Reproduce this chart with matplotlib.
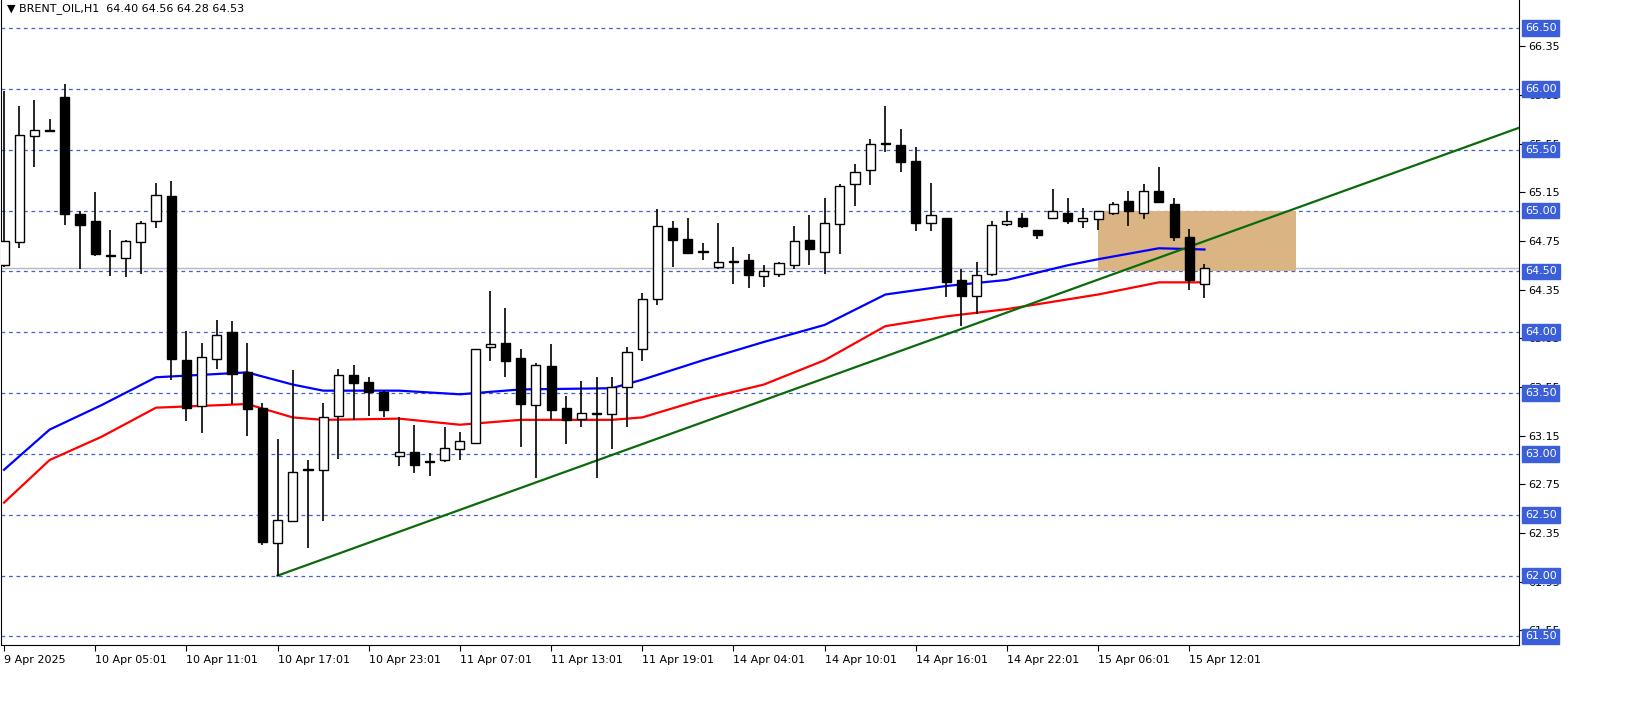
import matplotlib
matplotlib.use("Agg")
import matplotlib.pyplot as plt
import matplotlib.transforms as mt
import numpy as np

opens = [64.55,64.74,65.61,65.66,65.93,64.97,64.91,64.63,64.61,64.74,64.91,65.12,63.77,63.39,63.78,64.00,63.67,63.38,62.27,62.45,
         62.87,62.87,63.31,63.65,63.59,63.51,62.98,63.02,62.93,62.95,63.04,63.09,63.88,63.91,63.79,63.40,63.72,63.38,63.29,63.33,
         63.33,63.55,63.86,64.27,64.86,64.77,64.66,64.54,64.58,64.59,64.46,64.48,64.55,64.76,64.66,64.89,65.22,65.33,65.55,65.54,
         65.41,64.90,64.94,64.43,64.30,64.48,64.89,64.94,64.84,64.94,64.98,64.91,64.93,64.98,65.08,64.98,65.16,65.05,64.78,64.40]
highs = [65.98,65.86,65.91,65.75,66.04,65.00,65.15,64.84,64.76,64.91,65.23,65.24,64.01,63.91,64.10,64.09,63.91,63.42,63.12,63.69,
         62.95,63.42,63.70,63.73,63.63,63.52,63.30,63.24,63.01,63.22,63.18,63.86,64.34,64.20,63.86,63.75,63.90,63.48,63.60,63.63,
         63.63,63.88,64.32,65.01,64.91,64.94,64.73,64.90,64.70,64.64,64.55,64.58,64.87,64.96,65.10,65.22,65.38,65.59,65.86,65.67,
         65.52,65.23,64.94,64.52,64.58,64.91,65.00,64.98,64.84,65.18,65.10,65.02,65.00,65.07,65.16,65.22,65.36,65.10,64.85,64.56]
lows = [64.54,64.69,65.36,65.66,64.88,64.52,64.63,64.46,64.45,64.48,64.86,63.61,63.27,63.17,63.70,63.41,63.15,62.25,62.00,62.44,
        62.23,62.45,62.96,63.28,63.31,63.30,62.90,62.84,62.82,62.93,62.95,63.08,63.76,63.63,63.06,62.80,63.28,63.08,63.22,62.80,
        63.04,63.22,63.76,64.22,64.54,64.64,64.59,64.52,64.40,64.36,64.37,64.45,64.52,64.55,64.48,64.64,65.04,65.21,65.48,65.32,
        64.83,64.83,64.29,64.05,64.15,64.46,64.87,64.86,64.77,64.94,64.89,64.86,64.84,64.96,64.87,64.93,65.07,64.75,64.35,64.28]
closes = [64.75,65.62,65.66,65.65,64.97,64.88,64.64,64.63,64.75,64.90,65.13,63.78,63.38,63.80,63.98,63.66,63.37,62.28,62.46,62.85,
          62.87,63.30,63.65,63.58,63.51,63.36,63.02,62.91,62.93,63.05,63.11,63.86,63.90,63.76,63.41,63.73,63.36,63.28,63.34,63.33,
          63.55,63.84,64.27,64.87,64.76,64.65,64.66,64.58,64.58,64.47,64.50,64.57,64.75,64.68,64.90,65.20,65.32,65.55,65.55,65.40,
          64.90,64.96,64.41,64.30,64.47,64.88,64.91,64.87,64.80,65.00,64.91,64.94,65.00,65.05,65.00,65.16,65.07,64.78,64.43,64.53]

ema_idx = [0,3,6.4,10,16,19,21,26,30,34,40,42,46,50,54,58,62,66,70,72,76,79]
ema_blue = [62.87,63.20,63.40,63.63,63.67,63.57,63.52,63.52,63.49,63.53,63.54,63.61,63.77,63.92,64.06,64.31,64.38,64.43,64.55,64.60,64.69,64.68]
ema_red = [62.60,62.95,63.14,63.38,63.41,63.30,63.28,63.29,63.24,63.28,63.28,63.30,63.45,63.57,63.77,64.05,64.13,64.19,64.27,64.31,64.41,64.41]

trend_idx = [18, 99.7]
trend_val = [62.00, 65.68]
zone_idx = [72, 85]
zone_val = [64.50, 65.00]
last_price = 64.53

grid_levels = [61.5,62.0,62.5,63.0,63.5,64.0,64.5,65.0,65.5,66.0,66.5]
tick_levels = [61.55,61.95,62.35,62.75,63.15,63.55,63.95,64.35,64.75,65.15,65.55,65.95,66.35]
xtick_idx = list(range(0, 80, 6))
xtick_labels = ["9 Apr 2025","10 Apr 05:01","10 Apr 11:01","10 Apr 17:01","10 Apr 23:01","11 Apr 07:01","11 Apr 13:01",
                "11 Apr 19:01","14 Apr 04:01","14 Apr 10:01","14 Apr 16:01","14 Apr 22:01","15 Apr 06:01","15 Apr 12:01"]

fig = plt.figure(figsize=(16.51, 7.07), dpi=100)
ax = fig.add_axes([1/1651, 62/707, 1518/1651, 645/707])
ax.set_xlim(-0.2, 99.7)
ax.set_ylim(61.43, 66.73)

for g in grid_levels:
    ax.axhline(g, color="#3a5fd9", lw=0.9, ls=(0, (3, 3)), zorder=1)
ax.axhline(last_price, color="#b8b8b8", lw=1.0, zorder=1)

ax.fill_between(zone_idx, zone_val[0], zone_val[1], color="#dbb483", lw=0, zorder=2)

ax.plot(ema_idx, ema_blue, color="#0000ff", lw=1.6, zorder=3)
ax.plot(ema_idx, ema_red, color="#ff0000", lw=1.6, zorder=3)
ax.plot(trend_idx, trend_val, color="#0b6b0b", lw=1.6, zorder=3)

x = np.arange(len(opens))
o = np.array(opens); c = np.array(closes)
ax.vlines(x, lows, highs, color="black", lw=1.2, zorder=4)
up = c >= o
bot = np.minimum(o, c); h = np.maximum(np.abs(c - o), 0.008)
ax.bar(x, h, bottom=bot, width=0.6, color=np.where(up, "white", "black"), edgecolor="black", lw=1.0, zorder=5)

ax.yaxis.tick_right()
ax.set_yticks(tick_levels)
ax.set_yticklabels([f"{v:.2f}" for v in tick_levels], fontsize=8)
ax.tick_params(axis="y", length=4, pad=3)
trans = mt.blended_transform_factory(ax.transAxes, ax.transData)
for g in grid_levels:
    ax.text(1.004, g, f"{g:.2f}", transform=trans, fontsize=8, color="white", va="center", ha="left",
            bbox=dict(boxstyle="square,pad=0.25", fc="#3a5fd9", ec="#3a5fd9"), clip_on=False, zorder=10)

ax.set_xticks(xtick_idx)
ax.set_xticklabels(xtick_labels, fontsize=8, ha="left")
ax.tick_params(axis="x", length=4, pad=3)
for s in ["top"]:
    ax.spines[s].set_visible(False)
for s in ["left", "bottom", "right"]:
    ax.spines[s].set_color("black")

ax.text(0.004, 0.995, "\u25bc BRENT_OIL,H1  64.40 64.56 64.28 64.53", transform=ax.transAxes,
        fontsize=8, va="top", ha="left", zorder=11)

fig.savefig("out.png", dpi=100)
